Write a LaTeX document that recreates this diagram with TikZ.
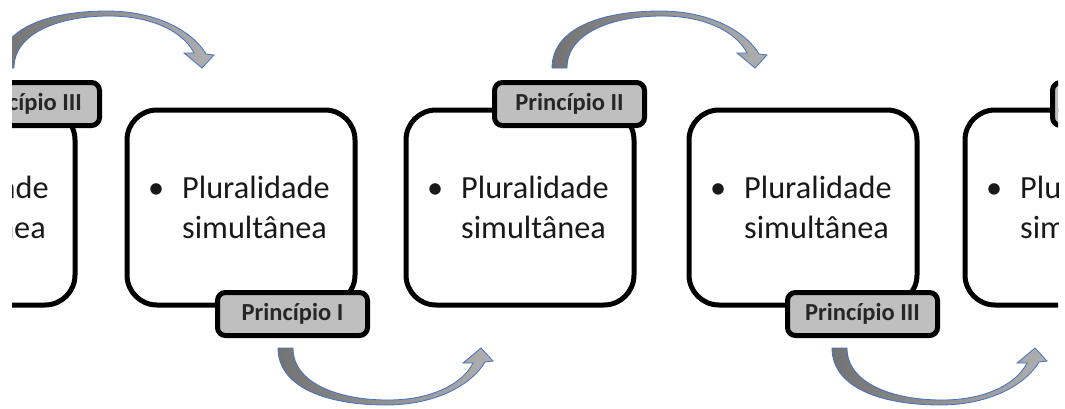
\documentclass[tikz,border=0pt]{standalone}
\usepackage{fontspec}
\setmainfont{Carlito}
\definecolor{tagfill}{RGB}{191,191,191}
\definecolor{tagtext}{RGB}{38,38,38}
\definecolor{bodytext}{RGB}{25,25,25}
\definecolor{arrowline}{RGB}{68,114,196}
\definecolor{arrowdark}{RGB}{115,115,115}
\definecolor{arrowlight}{RGB}{175,175,175}
\begin{document}
\begin{tikzpicture}[x=1pt,y=-1pt,
  card/.style={draw=black,line width=5pt,rounded corners=30pt,minimum width=228pt,minimum height=195pt,inner sep=0pt},
  tag/.style={draw=black,line width=5pt,rounded corners=8pt,fill=tagfill,minimum width=150pt,minimum height=43pt,inner sep=0pt,font=\fontsize{24.5}{28}\selectfont\bfseries,text=tagtext},
  body/.style={anchor=base west,inner sep=0pt,font=\fontsize{32.3}{40}\selectfont,text=bodytext},
  bendarrow/.style={left color=arrowdark,right color=arrowlight,draw=arrowline,line width=0.8pt}]
\useasboundingbox (0,0) rectangle (1065,408);
\fill[white] (0,0) rectangle (1065,408);
\clip (12,0) rectangle (1058,408);
% cards
\node[card] (bA) at (-39,207.5) {};
\node[card] (bB) at (241,207.5) {};
\node[card] (bC) at (520,207.5) {};
\node[card] (bD) at (803,207.5) {};
\node[card] (bE) at (1079,207.5) {};
% texts
\newcommand{\plural}{\begin{tabular}[t]{@{}l@{}l@{}}\makebox[34pt][l]{•}&Pluralidade\\&simultânea\end{tabular}}
\node[body] (tA) at (-133,198) {\plural};
\node[body] (tB) at (148,198) {\plural};
\node[body] (tC) at (427,198) {\plural};
\node[body] (tD) at (710,198) {\plural};
\node[body] (tE) at (986,198) {\plural};
% tags
\node[tag] (lA) at (24.5,104) {Princípio III};
\node[tag] (lB) at (292.5,314) {Princípio I};
\node[tag] (lC) at (569.5,104) {Princípio II};
\node[tag] (lD) at (862.5,314) {Princípio III};
\node[tag] (lE) at (1127.5,104) {Princípio III};
% curved arrows
\newcommand{\bendshape}{(0,0) .. controls (0,40) and (50,57) .. (108,57)
  .. controls (160,57) and (195,35) .. (207,14)
  -- (215,13) -- (203,0) -- (185,15) -- (195,15)
  .. controls (185,35) and (155,52) .. (110,52)
  .. controls (60,52) and (15,35) .. (15,0) -- cycle}
\begin{scope}[shift={(-1,68)},yscale=-1]
  \path[bendarrow] \bendshape;
\end{scope}
\begin{scope}[shift={(552,68)},yscale=-1]
  \path[bendarrow] \bendshape;
\end{scope}
\begin{scope}[shift={(278,348)}]
  \path[bendarrow] \bendshape;
\end{scope}
\begin{scope}[shift={(832,348)}]
  \path[bendarrow] \bendshape;
\end{scope}
\end{tikzpicture}
\end{document}
